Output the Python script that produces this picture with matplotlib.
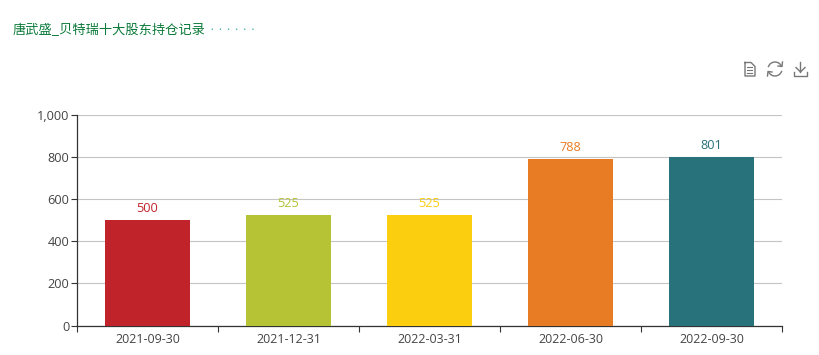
import matplotlib
matplotlib.use("Agg")
import matplotlib.pyplot as plt
from matplotlib.lines import Line2D
from matplotlib.patches import Arc

plt.rcParams['font.family'] = ['Noto Sans CJK SC', 'DejaVu Sans']

title = "唐武盛_贝特瑞十大股东持仓记录"
title_dots = "· · · · · ·"
dates = ["2021-09-30", "2021-12-31", "2022-03-31", "2022-06-30", "2022-09-30"]
values = [500, 525, 525, 788, 801]
colors = ["#c1232b", "#b5c334", "#fcce10", "#e87c25", "#27727b"]
y_ticks = [0, 200, 400, 600, 800, 1000]

W, H = 820, 355
fig = plt.figure(figsize=(W / 100, H / 100), dpi=100)
ax = fig.add_axes([77 / W, 1 - 325.6 / H, 705 / W, 211 / H])

xpos = list(range(len(dates)))
ax.bar(xpos, values, width=0.6, color=colors, zorder=3)
for x, v, c in zip(xpos, values, colors):
    ax.annotate(f"{v}", (x, v), xytext=(0, 3.6), textcoords="offset points",
                ha="center", va="bottom", fontsize=9.2, color=c, family="Open Sans")

ax.set_xlim(-0.5, len(dates) - 0.5)
ax.set_ylim(0, 1000)
ax.set_yticks(y_ticks)
ax.set_yticklabels([f"{t:,}" for t in y_ticks], fontsize=9.2, color="#444444", family="Open Sans")
ax.set_xticks([i - 0.5 for i in range(len(dates) + 1)])
ax.set_xticklabels([])
ax.set_xticks(xpos, minor=True)
ax.set_xticklabels(dates, minor=True, fontsize=9, color="#444444", family="Open Sans")
ax.tick_params(axis="x", which="minor", length=0, pad=5)
ax.tick_params(axis="x", which="major", length=4, width=0.8, color="#333333")
ax.tick_params(axis="y", length=4, width=0.8, color="#333333", pad=1.5)
ax.yaxis.grid(True, color="#c4c4c4", linewidth=0.8, zorder=0)
ax.set_axisbelow(True)
for s in ("top", "right"):
    ax.spines[s].set_visible(False)
for s in ("left", "bottom"):
    ax.spines[s].set_color("#333333")
    ax.spines[s].set_linewidth(0.9)

t = fig.text(13 / W, 1 - 30 / H, title, fontsize=9.5, color="#0b7a3a", va="center", ha="left")
fig.canvas.draw()
bb = t.get_window_extent()
fig.text((bb.x1 + 3) / W, 1 - 30 / H, title_dots, fontsize=4.8, color="#1aa3a3", va="center", ha="left")


# toolbox icons, in pixel coordinates of the figure
def seg(xs, ys, lw=1.0):
    fig.add_artist(Line2D([x / W for x in xs], [1 - y / H for y in ys],
                          color="#777777", linewidth=lw, transform=fig.transFigure))


seg([745, 745, 755, 755, 751, 745], [62.5, 76, 76, 66.5, 62.5, 62.5])
for yy in (67, 70, 73):
    seg([747.5, 752.5], [yy, yy], 0.8)

fig.add_artist(Arc((775, H - 69), 14, 14, theta1=20, theta2=165, color="#777777", lw=1.0, transform=None))
fig.add_artist(Arc((775, H - 69), 14, 14, theta1=200, theta2=345, color="#777777", lw=1.0, transform=None))
seg([778, 782, 782.5], [66, 66.5, 62])
seg([772, 768, 767.5], [72, 71.5, 76])

seg([800.5, 800.5], [62, 72])
seg([796, 800.5, 805], [67.5, 72, 67.5])
seg([794, 794, 807, 807], [72, 76, 76, 72])

fig.savefig("out.png", dpi=100)
